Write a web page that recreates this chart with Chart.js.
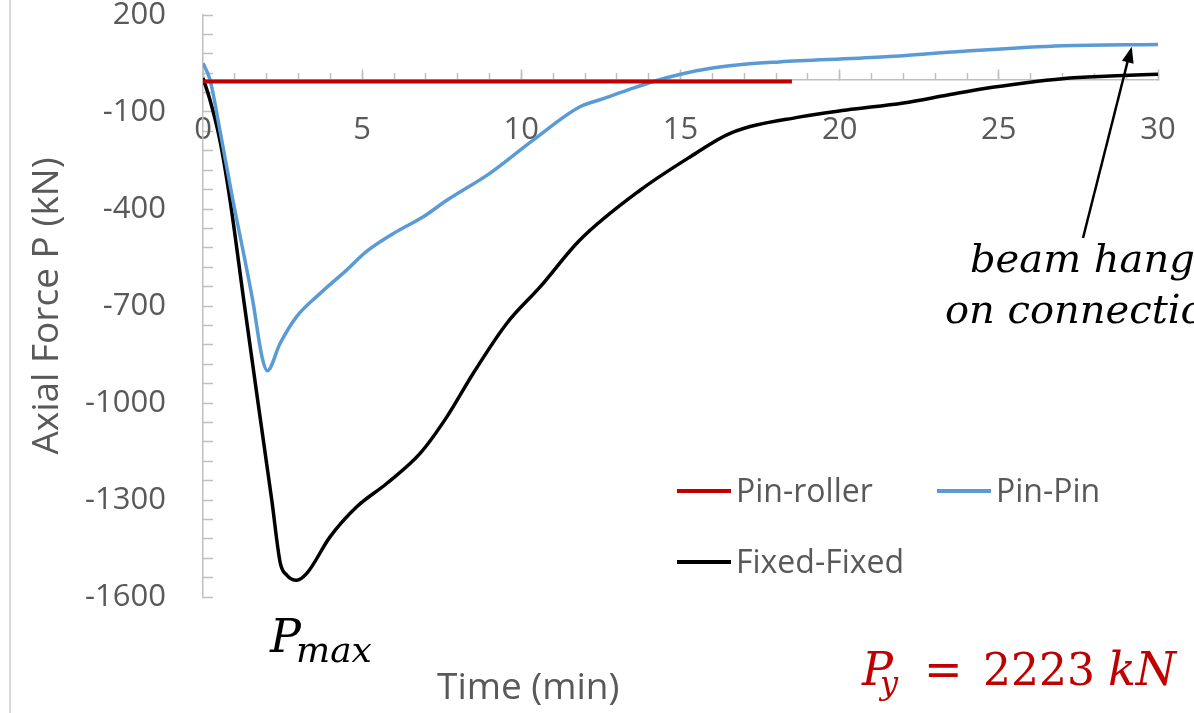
<!DOCTYPE html>
<html>
<head>
<meta charset="utf-8">
<script src="https://cdn.jsdelivr.net/npm/chart.js@4.4.1/dist/chart.umd.min.js"></script>
<style>
  html, body { margin: 0; padding: 0; background: #fff; overflow: hidden; }
  #wrap { position: relative; width: 1194px; height: 713px; overflow: hidden; }
  #axialChart { position: absolute; left: 0; top: 0; }
  .txt { position: absolute; white-space: nowrap; line-height: 1; }
  .sans { font-family: "Open Sans", sans-serif; color: #595959; }
  .math { font-family: "DejaVu Serif", serif; font-style: italic; }
  .up { font-style: normal; }
  .key { position: absolute; height: 4px; width: 54px; }
  #edge { position: absolute; left: 9px; top: 0; width: 2px; height: 713px; background: #d9d9d9; }
</style>
</head>
<body>
<div id="wrap">
  <div id="edge"></div>
  <canvas id="axialChart" width="1194" height="713"></canvas>

  <!-- legend -->
  <div class="key" style="left:677px; top:489px; background:#c00000;"></div>
  <div class="txt sans" style="left:736px; top:474px; font-size:32px;">Pin-roller</div>
  <div class="key" style="left:937px; top:489px; background:#5b9bd5;"></div>
  <div class="txt sans" style="left:996px; top:474px; font-size:32px;">Pin-Pin</div>
  <div class="key" style="left:677px; top:560px; background:#000;"></div>
  <div class="txt sans" style="left:736px; top:545px; font-size:32px;">Fixed-Fixed</div>

  <!-- x axis title -->
  <div class="txt sans" style="left:437px; top:666px; font-size:37px;">Time (min)</div>

  <!-- annotations -->
  <div class="txt math" style="left:270px; top:613px; font-size:46px;">P</div>
  <div class="txt math" style="left:296px; top:632px; font-size:36px;">max</div>

  <div class="txt math" style="left:970px; top:238px; font-size:40px;">beam hanging</div>
  <div class="txt math" style="left:945px; top:289px; font-size:40px;">on connection</div>

  <div class="txt math" style="left:862px; top:646px; font-size:46px; color:#c00000;">P</div>
  <div class="txt math" style="left:880px; top:667px; font-size:32px; color:#c00000;">y</div>
  <div class="txt math up" style="left:924px; top:646px; font-size:46px; color:#c00000;">=</div>
  <div class="txt math up" style="left:983px; top:648px; font-size:44px; color:#c00000;">2223</div>
  <div class="txt math" style="left:1108px; top:646px; font-size:46px; color:#c00000;">kN</div>

  <svg width="1194" height="713" style="position:absolute; left:0; top:0;">
    <line x1="1083" y1="238" x2="1128" y2="60" stroke="#000" stroke-width="2.5"/>
    <polygon points="1131.7,46.7 1133.6,63.7 1122.0,60.7" fill="#000"/>
  </svg>
</div>

<script>
// Axial force vs time, three support conditions

const pinRollerTime = [0, 18.5];
const pinRollerForce = [-6, -6];

const pinPinTime = [0, 0.22, 0.53, 0.94, 1.56, 1.86, 2.02, 2.42, 2.94, 3.68, 4.51, 5.13,
  5.98, 6.92, 7.66, 9.02, 10.37, 11.84, 12.6, 13.4, 14.2, 15.0, 16.0, 17.0, 18.1, 21.3, 23.9, 27.0, 30];
const pinPinForce = [51, 0, -156, -373, -682, -860, -900, -816, -733, -661, -589, -532,
  -476, -424, -373, -289, -187, -84, -58, -30, -4, 17, 36, 48, 55, 70, 88, 105, 109];

const fixedTime = [0, 0.22, 0.53, 0.85, 1.28, 1.73, 2.16, 2.43, 2.63, 2.94, 3.26, 3.99,
  4.83, 5.77, 6.82, 7.66, 8.49, 9.54, 10.59, 11.84, 13.73, 15.3, 16.56, 18.76, 20.22, 22.0,
  23.36, 24.5, 25.8, 27.0, 28.5, 30];
const fixedForce = [5, -63, -187, -373, -682, -1000, -1300, -1496, -1532, -1548, -1527, -1414,
  -1321, -1249, -1156, -1043, -908, -754, -641, -496, -342, -239, -166, -115, -94, -72,
  -48, -28, -10, 3, 11, 17];

const yMin = -1600;
const yMax = 200;
const yLabelStep = 300;

const colors = {
  red: "#c00000",
  blue: "#5b9bd5",
  black: "#000000",
  axis: "#bfbfbf",
  text: "#595959"
};

function toPoints(xs, ys) {
  return xs.map((x, i) => ({ x: x, y: ys[i] }));
}

Chart.defaults.font.family = "'Open Sans', sans-serif";
Chart.defaults.color = colors.text;

const ctx = document.getElementById("axialChart").getContext("2d");

new Chart(ctx, {
  type: "line",
  data: {
    datasets: [
      {
        label: "Pin-roller",
        data: toPoints(pinRollerTime, pinRollerForce),
        borderColor: colors.red,
        borderWidth: 4,
        pointRadius: 0
      },
      {
        label: "Pin-Pin",
        data: toPoints(pinPinTime, pinPinForce),
        borderColor: colors.blue,
        borderWidth: 3.5,
        pointRadius: 0,
        cubicInterpolationMode: "monotone"
      },
      {
        label: "Fixed-Fixed",
        data: toPoints(fixedTime, fixedForce),
        borderColor: colors.black,
        borderWidth: 3.5,
        pointRadius: 0,
        cubicInterpolationMode: "monotone"
      }
    ]
  },
  options: {
    responsive: false,
    animation: false,
    layout: {
      padding: { top: 15, right: 36, bottom: 116, left: 0 }
    },
    plugins: {
      legend: { display: false },
      tooltip: { enabled: false }
    },
    scales: {
      x: {
        type: "linear",
        min: 0,
        max: 30,
        position: { y: 0 },
        ticks: {
          stepSize: 5,
          autoSkip: false,
          maxRotation: 0,
          padding: 43,
          color: colors.text,
          font: { size: 31 }
        },
        grid: {
          drawOnChartArea: false,
          tickLength: -11,
          tickColor: colors.axis,
          tickWidth: 1.5
        },
        border: { color: colors.axis, width: 1.5 },
        afterFit: (scale) => {
          scale.paddingLeft = 0;
          scale.paddingRight = 0;
        }
      },
      x2: {
        type: "linear",
        min: 0,
        max: 30,
        position: { y: 0 },
        ticks: { stepSize: 1, display: false },
        grid: {
          drawOnChartArea: false,
          tickLength: -7,
          tickColor: colors.axis,
          tickWidth: 1.5
        },
        border: { display: false },
        afterFit: (scale) => {
          scale.paddingLeft = 0;
          scale.paddingRight = 0;
        }
      },
      y: {
        type: "linear",
        min: yMin,
        max: yMax,
        ticks: {
          stepSize: 60,
          autoSkip: false,
          padding: 47,
          color: colors.text,
          font: { size: 31 },
          callback: (v) => ((yMax - v) % yLabelStep === 0 ? v : "")
        },
        grid: {
          drawOnChartArea: false,
          tickLength: -10,
          tickColor: colors.axis,
          tickWidth: 1.5
        },
        border: { color: colors.axis, width: 1.5 },
        title: {
          display: true,
          text: "Axial Force P (kN)",
          color: colors.text,
          font: { size: 37 },
          padding: { top: 25, bottom: 0 }
        },
        afterFit: (scale) => {
          scale.width = 203;
          scale.paddingTop = 0;
          scale.paddingBottom = 0;
        }
      }
    }
  }
});
</script>
</body>
</html>
